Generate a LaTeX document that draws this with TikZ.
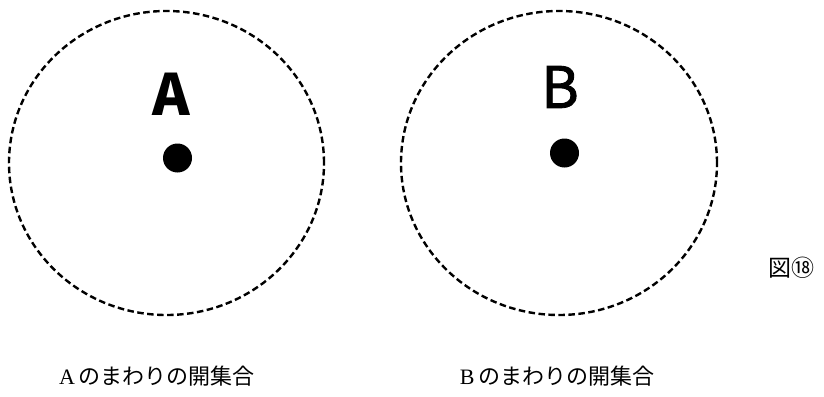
\documentclass[tikz,border=0pt]{standalone}
\usepackage{fontspec}
\setmainfont{Liberation Serif}
\newfontfamily\cjk{Noto Sans CJK JP}
\newfontfamily\cjkmed{Noto Sans CJK JP}[FakeBold=1.6]
\usetikzlibrary{shapes.geometric}
\tikzset{
  region/.style={draw=black, line width=2.4pt, dash pattern=on 6.5pt off 3.5pt, ellipse, inner sep=0pt},
  pointdot/.style={circle, fill=black, inner sep=0pt, minimum size=29pt},
  ptlabel/.style={font=\cjk\bfseries\fontsize{57}{57}\selectfont, inner sep=0pt},
  caption/.style={font=\fontsize{22}{22}\selectfont, inner sep=0pt},
}
\begin{document}
\begin{tikzpicture}[x=1pt,y=-1pt]
\useasboundingbox (0,0) rectangle (824,396);
\node[region, minimum width=315pt, minimum height=304pt] (setA) at (166.5,163) {};
\node[region, minimum width=316pt, minimum height=304pt] (setB) at (559,163) {};
\node[pointdot] (ptA) at (177.5,158) {};
\node[pointdot] (ptB) at (564.5,153) {};
\node[ptlabel] (labA) at (171,94) {A};
\node[ptlabel, font=\cjkmed\fontsize{57}{57}\selectfont] (labB) at (560,87) {B};
\node[caption] (capA) at (157,376) {A\,{\cjk のまわりの開集合}};
\node[caption] (capB) at (557,376) {B\,{\cjk のまわりの開集合}};
\node[caption, font=\cjk\fontsize{23}{23}\selectfont] (fig) at (791,268) {図⑱};
\end{tikzpicture}
\end{document}
